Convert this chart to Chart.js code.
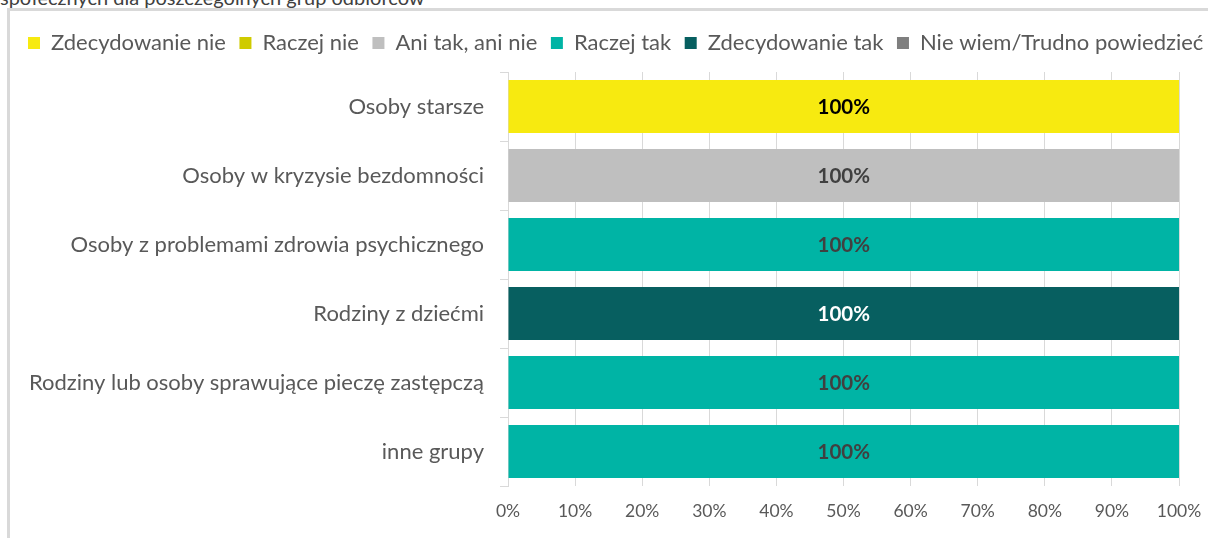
<!DOCTYPE html>
<html>
<head>
<meta charset="utf-8">
<script src="https://cdn.jsdelivr.net/npm/chart.js@4/dist/chart.umd.min.js"></script>
<style>
  html, body { margin: 0; padding: 0; background: #fff; overflow: hidden; }
  body { width: 1208px; height: 538px; position: relative; }
  .caption {
    position: absolute; left: 0; top: -15px;
    font: 20px Lato, sans-serif; color: #404040; white-space: nowrap;
  }
  .frame {
    position: absolute; left: 7px; top: 8px;
    width: 1300px; height: 527px;
    border-left: 3px solid #d9d9d9; border-top: 3px solid #d9d9d9;
  }
</style>
</head>
<body>
<div class="caption">społecznych dla poszczególnych grup odbiorców</div>
<div class="frame"><canvas id="groupsChart"></canvas></div>
<script>
const categories = [
    'Osoby starsze',
    'Osoby w kryzysie bezdomności',
    'Osoby z problemami zdrowia psychicznego',
    'Rodziny z dziećmi',
    'Rodziny lub osoby sprawujące pieczę zastępczą',
    'inne grupy'
];

const zdecydowanieNie = [100, 0, 0, 0, 0, 0];
const raczejNie = [0, 0, 0, 0, 0, 0];
const aniTakAniNie = [0, 100, 0, 0, 0, 0];
const raczejTak = [0, 0, 100, 0, 100, 100];
const zdecydowanieTak = [0, 0, 0, 100, 0, 0];
const nieWiem = [0, 0, 0, 0, 0, 0];

const xTicks = [0, 10, 20, 30, 40, 50, 60, 70, 80, 90, 100];

const font = 'Lato, sans-serif';
const textGrey = '#595959';
const lineGrey = '#d9d9d9';

// percent labels inside each non-empty segment
const segmentLabels = {
    id: 'segmentLabels',
    afterDatasetsDraw(chart) {
        const ctx = chart.ctx;
        ctx.save();
        ctx.font = 'bold 20.5px ' + font;
        ctx.textAlign = 'center';
        ctx.textBaseline = 'middle';
        chart.data.datasets.forEach((ds, i) => {
            const meta = chart.getDatasetMeta(i);
            meta.data.forEach((bar, j) => {
                const v = ds.data[j];
                if (!v) return;
                const p = bar.getCenterPoint();
                ctx.fillStyle = ds.labelColor;
                ctx.fillText(v + '%', p.x, p.y + 1);
            });
        });
        ctx.restore();
    }
};

// a bit more room between legend and plot
const legendGap = {
    id: 'legendGap',
    afterInit(chart) {
        const fit = chart.legend.fit;
        chart.legend.fit = function () {
            fit.call(this);
            this.height += 8;
        };
    }
};

new Chart(document.getElementById('groupsChart'), {
    type: 'bar',
    data: {
        labels: categories,
        datasets: [
            { label: 'Zdecydowanie nie', data: zdecydowanieNie, backgroundColor: '#f7ea10', labelColor: '#000000' },
            { label: 'Raczej nie', data: raczejNie, backgroundColor: '#cfcb00', labelColor: '#404040' },
            { label: 'Ani tak, ani nie', data: aniTakAniNie, backgroundColor: '#bfbfbf', labelColor: '#404040' },
            { label: 'Raczej tak', data: raczejTak, backgroundColor: '#00b4a5', labelColor: '#404040' },
            { label: 'Zdecydowanie tak', data: zdecydowanieTak, backgroundColor: '#075f60', labelColor: '#ffffff' },
            { label: 'Nie wiem/Trudno powiedzieć', data: nieWiem, backgroundColor: '#7f7f7f', labelColor: '#ffffff' }
        ]
    },
    options: {
        indexAxis: 'y',
        responsive: true,
        maintainAspectRatio: false,
        animation: false,
        events: [],
        datasets: {
            bar: { barPercentage: 0.77, categoryPercentage: 1 }
        },
        layout: { padding: { top: 7.5, bottom: 14, left: 4.5, right: 0 } },
        plugins: {
            legend: {
                position: 'top',
                align: 'start',
                labels: {
                    boxWidth: 12,
                    boxHeight: 12,
                    padding: 13.5,
                    color: textGrey,
                    font: { family: font, size: 22 }
                }
            },
            tooltip: { enabled: false }
        },
        scales: {
            x: {
                stacked: true,
                min: 0,
                max: 100,
                afterBuildTicks(scale) {
                    scale.ticks = xTicks.map(v => ({ value: v }));
                },
                afterFit(scale) {
                    scale.height = 38;
                    scale.paddingRight = 131;
                },
                ticks: {
                    color: textGrey,
                    padding: 15,
                    font: { family: font, size: 17.5 },
                    callback: v => v + '%'
                },
                grid: { color: lineGrey, drawTicks: false },
                border: { display: false }
            },
            y: {
                stacked: true,
                afterFit(scale) {
                    scale.width = 493.5;
                },
                ticks: {
                    color: textGrey,
                    padding: 16,
                    font: { family: font, size: 22 }
                },
                grid: {
                    color: lineGrey,
                    drawOnChartArea: false,
                    drawTicks: true,
                    tickLength: 8
                },
                border: { display: true, color: lineGrey }
            }
        }
    },
    plugins: [segmentLabels, legendGap]
});
</script>
</body>
</html>
